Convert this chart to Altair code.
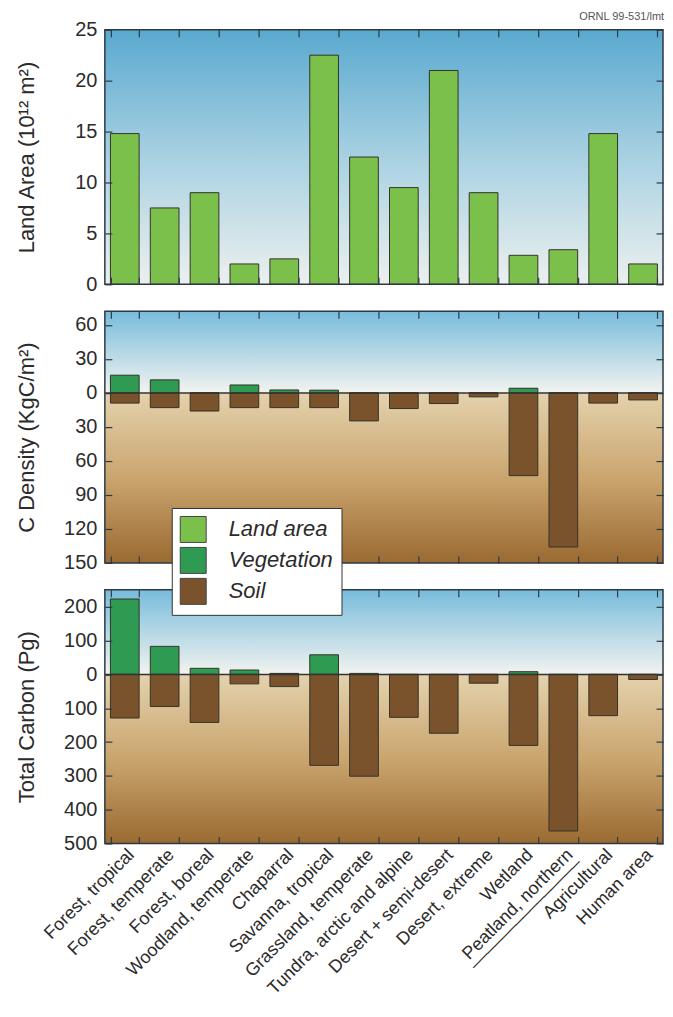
import altair as alt
import pandas as pd

categories = ["Forest, tropical", "Forest, temperate", "Forest, boreal", "Woodland, temperate",
              "Chaparral", "Savanna, tropical", "Grassland, temperate", "Tundra, arctic and alpine",
              "Desert + semi-desert", "Desert, extreme", "Wetland", "Peatland, northern",
              "Agricultural", "Human area"]
land_area = [14.8, 7.5, 9.0, 2.0, 2.5, 22.5, 12.5, 9.5, 21.0, 9.0, 2.85, 3.4, 14.8, 2.0]
veg_density = [15.6, 11.5, 0, 7, 2.6, 2.4, 0, 0, 0, 0, 4.1, 0, 0, 0]
soil_density = [9, 13, 16, 13, 13, 13, 24.7, 13.8, 9.4, 3.5, 73, 136, 9, 6.2]
veg_total = [223, 83, 18, 13, 3, 58, 3, 0, 0, 0, 8, 0, 0, 0]
soil_total = [129, 95, 142, 28, 36, 269, 301, 127, 174, 26, 210, 463, 122, 15]
components = ["Land area", "Vegetation", "Soil"]
comp_colors = ["#7cc04c", "#2e9a52", "#7a532c"]

W = 559
H1, H2, H3 = 255, 252, 254
TXT = "#2b2b2b"
FRAME = "#2d3a45"
FONT = "Liberation Sans"

df_land = pd.DataFrame({"cat": categories, "val": land_area, "comp": "Land area"})
df_dens = pd.DataFrame({"cat": categories * 2,
                        "val": veg_density + [-v for v in soil_density],
                        "comp": ["Vegetation"] * 14 + ["Soil"] * 14})
df_tot = pd.DataFrame({"cat": categories * 2,
                       "val": veg_total + [-v for v in soil_total],
                       "comp": ["Vegetation"] * 14 + ["Soil"] * 14})
one = pd.DataFrame({"a": [0]})


def grad(stops):
    return alt.LinearGradient(gradient="linear",
                              stops=[alt.GradientStop(color=c, offset=o) for o, c in stops],
                              x1=0, x2=0, y1=0, y2=1)


sky1 = grad([(0, "#5aa9cf"), (0.5, "#a8d1e2"), (1, "#ecf0ee")])
sky2 = grad([(0, "#78bcdc"), (1, "#f2f3ef")])
soil = grad([(0, "#e4d2ad"), (0.5, "#caa56e"), (1, "#9a6a32")])

legend = alt.Legend(orient="none", legendX=67, legendY=479, title=None,
                    fillColor="white", strokeColor="#333", padding=8,
                    symbolType="square", symbolSize=676, symbolStrokeColor="#444",
                    symbolStrokeWidth=1, symbolOpacity=1, labelFontSize=22,
                    labelFontStyle="italic", labelFont=FONT, labelColor=TXT,
                    rowPadding=0, labelOffset=22)
color = alt.Color("comp:N", scale=alt.Scale(domain=components, range=comp_colors), legend=legend)


def xenc(axis):
    return alt.X("cat:N", sort=categories,
                 scale=alt.Scale(paddingInner=0.28, paddingOuter=0.14), axis=axis)


def panel(H, dom, bgs, data, yvals, ytitle, label_expr, show_x_labels, zero_line):
    ysc = alt.Scale(domain=dom, nice=False, zero=False)
    left_axis = alt.Axis(orient="left", offset=-7, tickSize=7, values=yvals,
                         labelExpr=label_expr, labelFontSize=20, labelPadding=8,
                         labelColor=TXT, domain=False, grid=False, zindex=1,
                         tickColor=FRAME, tickWidth=1.2,
                         title=ytitle, titleFontSize=22, titleFontWeight="normal",
                         titleColor=TXT, titleX=-85, titleY=H / 2, titleBaseline="middle",
                         titleAngle=-90)
    right_axis = alt.Axis(orient="right", offset=-7, tickSize=7, values=yvals, labels=False,
                          domain=False, grid=False, title=None, zindex=1,
                          tickColor=FRAME, tickWidth=1.2)
    if show_x_labels:
        bottom_axis = alt.Axis(orient="bottom", offset=-7, tickSize=7, tickBand="extent",
                               domain=False, title=None, zindex=1, tickColor=FRAME, tickWidth=1.2,
                               labelAngle=-45, labelFontSize=18, labelPadding=2, labelColor=TXT,
                               labelLineHeight=5, labelLimit=0,
                               labelExpr="datum.value == 'Peatland, northern' ? "
                                         "['Peatland, northern', '_______________'] : datum.value")
    else:
        bottom_axis = alt.Axis(orient="bottom", offset=-7, tickSize=7, tickBand="extent",
                               labels=False, domain=False, title=None, zindex=1,
                               tickColor=FRAME, tickWidth=1.2)
    top_axis = alt.Axis(orient="top", offset=-7, tickSize=7, tickBand="extent", labels=False,
                        domain=False, title=None, zindex=1, tickColor=FRAME, tickWidth=1.2)

    layers = []
    for top, bot, g in bgs:
        layers.append(alt.Chart(one).mark_rect(fill=g, strokeWidth=0).encode(
            x=alt.value(0), x2=alt.value(W),
            y=alt.YDatum(top, scale=ysc, axis=None), y2=alt.Y2Datum(bot)))
    layers.append(alt.Chart(data).mark_bar(stroke="#33332a", strokeWidth=1).encode(
        x=xenc(bottom_axis),
        y=alt.Y("val:Q", scale=ysc, axis=left_axis, stack=None),
        color=color))
    layers.append(alt.Chart(data).mark_bar(opacity=0).encode(
        x=xenc(top_axis),
        y=alt.Y("val:Q", scale=ysc, axis=right_axis, stack=None)))
    if zero_line:
        layers.append(alt.Chart(one).mark_rule(color="#333", strokeWidth=1.5).encode(
            y=alt.YDatum(0, scale=ysc, axis=None)))
    layers.append(alt.Chart(one).mark_rect(fillOpacity=0, stroke=FRAME, strokeWidth=1.5).encode(
        x=alt.value(0), x2=alt.value(W),
        y=alt.YDatum(dom[1], scale=ysc, axis=None), y2=alt.Y2Datum(dom[0])))
    return layers


p1_layers = panel(H1, [0, 25], [(25, 0, sky1)], df_land, [0, 5, 10, 15, 20, 25],
                  "Land Area (10¹² m²)", "datum.value", False, False)
p1_layers.append(alt.Chart(one).mark_text(text="ORNL 99-531/lmt", align="left", baseline="middle",
                                          fontSize=11, color="#555", font=FONT).encode(
    x=alt.value(475), y=alt.value(-13)))
p1 = alt.layer(*p1_layers).properties(width=W, height=H1)

p2 = alt.layer(*panel(H2, [-150, 72], [(72, 0, sky2), (0, -150, soil)], df_dens,
                      [-150, -120, -90, -60, -30, 0, 30, 60],
                      "C Density (KgC/m²)", "format(abs(datum.value), 'd')", False, True)
               ).properties(width=W, height=H2)

p3 = alt.layer(*panel(H3, [-500, 250], [(250, 0, sky2), (0, -500, soil)], df_tot,
                      [-500, -400, -300, -200, -100, 0, 100, 200],
                      "Total Carbon (Pg)", "format(abs(datum.value), 'd')", True, True)
               ).properties(width=W, height=H3)

chart = alt.VConcatChart(vconcat=[p1, p2, p3], spacing=27, bounds="flush",
                         padding={"left": 7, "top": 2, "right": 0, "bottom": 0}
                         ).configure_view(stroke=None).configure_axis(
    labelFont=FONT, titleFont=FONT).configure_legend(labelFont=FONT)

chart.save("out.html", embed_options={"renderer": "svg", "actions": False})
